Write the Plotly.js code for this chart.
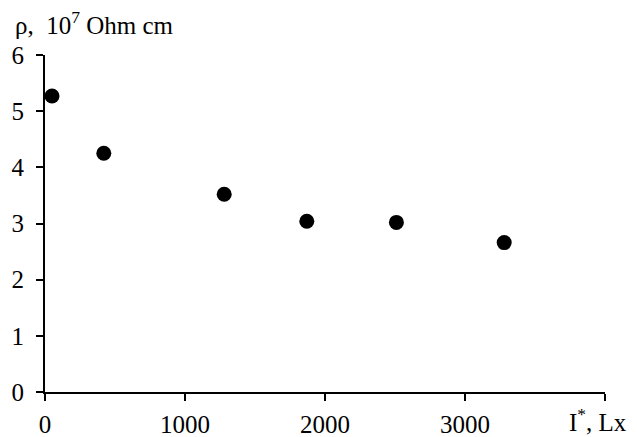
<!DOCTYPE html>
<html>
<head>
<meta charset="utf-8">
<script src="https://cdn.plot.ly/plotly-3.0.1.min.js"></script>
<style>html,body{margin:0;padding:0;background:#fff;}#chart{width:637px;height:437px;}</style>
</head>
<body>
<div id="chart"></div>
<script>
const illuminance = [50, 420, 1280, 1870, 2510, 3280];
const resistivity = [5.27, 4.25, 3.52, 3.04, 3.02, 2.66];
const xTicks = [0, 1000, 2000, 3000, 4000];
const xTickLabels = ['0', '1000', '2000', '3000', ''];
const yTicks = [0, 1, 2, 3, 4, 5, 6];

const font = {family: 'Liberation Serif, Times New Roman, serif', size: 25, color: '#000'};

const trace = {
  x: illuminance, y: resistivity, type: 'scatter', mode: 'markers',
  marker: {color: '#000', size: 15}
};

const layout = {
  width: 637, height: 437,
  margin: {l: 45, r: 32, t: 55, b: 45},
  paper_bgcolor: '#fff', plot_bgcolor: '#fff',
  showlegend: false,
  font: font,
  xaxis: {
    range: [0, 4000], tickvals: xTicks, ticktext: xTickLabels,
    showgrid: false, zeroline: false, showline: true, linecolor: '#000', linewidth: 2,
    ticks: 'outside', ticklen: 7, tickwidth: 2, tickcolor: '#000',
    ticklabelstandoff: 2,
    tickfont: font
  },
  yaxis: {
    range: [0, 6], tickvals: yTicks,
    showgrid: false, zeroline: false, showline: true, linecolor: '#000', linewidth: 2,
    ticks: 'outside', ticklen: 7, tickwidth: 2, tickcolor: '#000',
    ticklabelstandoff: 7,
    tickfont: font
  },
  annotations: [
    {text: 'ρ,  10<sup>7</sup> Ohm cm', xref: 'paper', yref: 'paper', x: -0.058, y: 1.0, yshift: 32,
     xanchor: 'left', yanchor: 'middle', showarrow: false, font: font},
    {text: 'I<sup>*</sup>, Lx', xref: 'paper', yref: 'paper', x: 1.043, y: 0, yshift: -10,
     xanchor: 'right', yanchor: 'top', showarrow: false, font: font}
  ]
};

Plotly.newPlot('chart', [trace], layout, {displayModeBar: false, staticPlot: true});
</script>
</body>
</html>
